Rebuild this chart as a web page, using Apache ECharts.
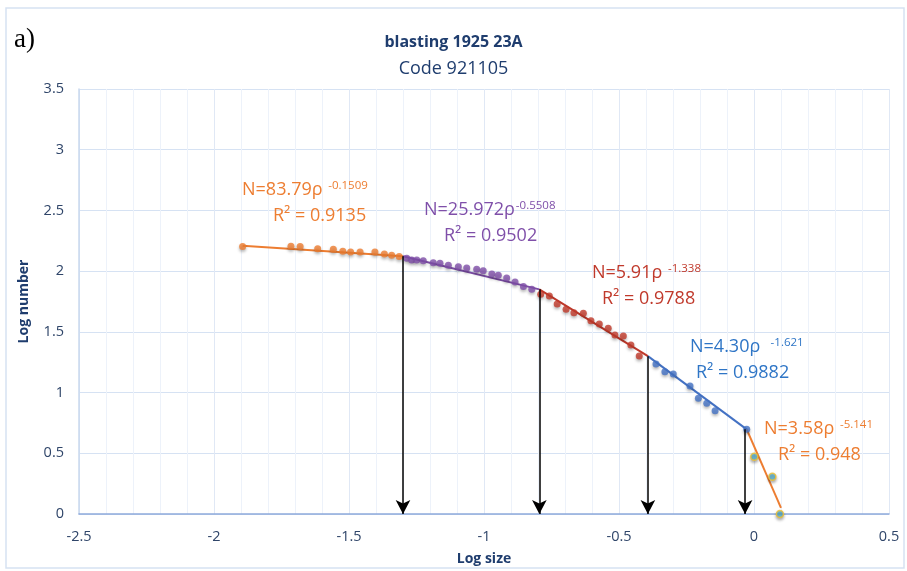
<!DOCTYPE html>
<html>
<head>
<meta charset="utf-8">
<script src="https://cdn.jsdelivr.net/npm/echarts@6/dist/echarts.min.js"></script>
<style>
  html, body { margin: 0; padding: 0; background: #fff; }
  #main { width: 907px; height: 571px; }
</style>
</head>
<body>
<div id="main"></div>
<script>
// measured points, log size / log number
var seg1X = [-1.894, -1.715, -1.681, -1.616, -1.558, -1.523, -1.494, -1.459, -1.404, -1.369, -1.342, -1.314];
var seg1Y = [2.202, 2.205, 2.202, 2.185, 2.180, 2.164, 2.158, 2.158, 2.158, 2.142, 2.131, 2.120];
var seg2X = [-1.286, -1.268, -1.249, -1.225, -1.188, -1.163, -1.132, -1.095, -1.064, -1.027, -1.003, -0.971, -0.947, -0.916, -0.885, -0.854, -0.823];
var seg2Y = [2.106, 2.092, 2.092, 2.086, 2.070, 2.065, 2.048, 2.037, 2.026, 2.015, 2.004, 1.977, 1.966, 1.944, 1.911, 1.873, 1.851];
var seg3X = [-0.790, -0.758, -0.729, -0.696, -0.667, -0.632, -0.604, -0.573, -0.540, -0.515, -0.484, -0.456, -0.425];
var seg3Y = [1.810, 1.796, 1.730, 1.686, 1.658, 1.653, 1.592, 1.565, 1.530, 1.474, 1.466, 1.392, 1.301];
var seg4X = [-0.363, -0.330, -0.299, -0.237, -0.206, -0.175, -0.144, -0.027];
var seg4Y = [1.236, 1.172, 1.153, 1.054, 0.953, 0.912, 0.851, 0.697];
var seg5X = [0.001, 0.068, 0.096];
var seg5Y = [0.472, 0.307, 0.0];

// trend lines (end points)
var fit1X = [-1.894, -1.300], fit1Y = [2.210, 2.122];
var fit2X = [-1.300, -0.795], fit2Y = [2.122, 1.850];
var fit3X = [-0.795, -0.393], fit3Y = [1.850, 1.300];
var fit4X = [-0.393, -0.027], fit4Y = [1.300, 0.697];
var fit5X = [-0.027, 0.100], fit5Y = [0.697, 0.050];

// arrows
var arrowX = [-1.300, -0.795, -0.393, -0.033];
var arrowTop = [2.122, 1.850, 1.300, 0.697];

var xTicks = [-2.5, 0.5];
var yTicks = [0, 3.5];

function pairs(xs, ys) {
  return xs.map(function (x, i) { return [x, ys[i]]; });
}

var orange = '#ED7D31', purple = '#7F4FA9', red = '#C0392B', blue = '#4472C4';
var font = 'Open Sans';
var eqSize = 18;

var ctx = document.createElement('canvas').getContext('2d');
function textWidth(t, size) {
  ctx.font = size + 'px "' + font + '"';
  return ctx.measureText(t).width;
}

function dots(data, color, border) {
  return {
    type: 'scatter', data: data, symbolSize: 7, z: 4,
    itemStyle: {
      color: color, borderColor: border || color, borderWidth: border ? 1.5 : 0,
      shadowBlur: 3, shadowColor: 'rgba(0,0,0,0.35)', shadowOffsetY: 2
    }
  };
}
function fit(data, color) {
  return {
    type: 'line', data: data, symbol: 'none', z: 3,
    lineStyle: { color: color, width: 2 }
  };
}
// equation label: main text, raised exponent, R² line under it
function eq(left, top, color, main, sup, r2, off) {
  return [{
    type: 'text', left: left, top: top, z: 100,
    style: { text: main, fontFamily: font, fontSize: eqSize, fill: color }
  }, {
    type: 'text', left: left + textWidth(main, eqSize) + 1, top: top - 1, z: 100,
    style: { text: sup, fontFamily: font, fontSize: 11.5, fill: color }
  }, {
    type: 'text', left: left + off, top: top + 26, z: 100,
    style: { text: r2, fontFamily: font, fontSize: eqSize, fill: color }
  }];
}

var arrowLines = arrowX.map(function (x, i) {
  return [{ coord: [x, arrowTop[i]] }, { coord: [x, 0] }];
});

var chart = echarts.init(document.getElementById('main'));
chart.setOption({
  backgroundColor: '#fff',
  animation: false,
  title: {
    text: 'blasting 1925 23A',
    subtext: 'Code 921105',
    left: 'center', top: 29, itemGap: 10,
    textStyle: { fontFamily: font, fontSize: 16, fontWeight: 'bold', color: '#1F3D6E' },
    subtextStyle: { fontFamily: font, fontSize: 18, color: '#1F3D6E' }
  },
  grid: { left: 79, right: 18, top: 89, bottom: 57 },
  xAxis: {
    type: 'value', min: xTicks[0], max: xTicks[1], interval: 0.5,
    name: 'Log size', nameLocation: 'middle', nameGap: 38,
    nameTextStyle: { fontFamily: font, fontSize: 14, fontWeight: 'bold', color: '#1F3D6E' },
    axisLine: { lineStyle: { color: '#8FAADC', width: 1.5 } },
    axisTick: { show: false },
    axisLabel: { fontFamily: font, fontSize: 14.5, color: '#2F4569', margin: 15 },
    splitLine: { show: true, lineStyle: { color: '#E0E8F5', width: 1 } },
    minorSplitLine: { show: true, lineStyle: { color: '#EDF2FA', width: 1 } },
    minorTick: { show: false, splitNumber: 5 }
  },
  yAxis: {
    type: 'value', min: yTicks[0], max: yTicks[1], interval: 0.5,
    name: 'Log number', nameLocation: 'middle', nameGap: 48,
    nameTextStyle: { fontFamily: font, fontSize: 14, fontWeight: 'bold', color: '#1F3D6E' },
    axisLine: { show: true, onZero: false, lineStyle: { color: '#C9D8EE', width: 1.5 } },
    axisTick: { show: false },
    axisLabel: { fontFamily: font, fontSize: 14.5, color: '#2F4569', margin: 15 },
    splitLine: { show: true, lineStyle: { color: '#D6E2F3', width: 1.2 } }
  },
  series: [
    fit(pairs(fit1X, fit1Y), orange),
    fit(pairs(fit2X, fit2Y), purple),
    fit(pairs(fit3X, fit3Y), red),
    fit(pairs(fit4X, fit4Y), blue),
    fit(pairs(fit5X, fit5Y), orange),
    dots(pairs(seg1X, seg1Y), orange),
    dots(pairs(seg2X, seg2Y), purple),
    dots(pairs(seg3X, seg3Y), red),
    dots(pairs(seg4X, seg4Y), blue),
    dots(pairs(seg5X, seg5Y), '#5BB8D6', '#F2C12E'),
    {
      type: 'line', data: [], z: 2,
      markLine: {
        silent: true, symbol: ['none', 'arrow'], symbolSize: [11, 14],
        label: { show: false },
        lineStyle: { color: '#000', width: 1.5, type: 'solid' },
        data: arrowLines
      }
    }
  ],
  graphic: [
    { type: 'rect', shape: { x: 6, y: 8, width: 898, height: 560 }, style: { fill: 'none', stroke: '#D6E2F2', lineWidth: 1.5 }, z: -1 },
    { type: 'text', left: 14, top: 26, style: { text: 'a)', fontFamily: 'Liberation Serif', fontSize: 27, fill: '#000' } }
  ]
    .concat(eq(242, 181, orange, 'N=83.79ρ ', '-0.1509', 'R² = 0.9135', 31))
    .concat(eq(424, 201, purple, 'N=25.972ρ', '-0.5508', 'R² = 0.9502', 20))
    .concat(eq(592, 264, red, 'N=5.91ρ ', '-1.338', 'R² = 0.9788', 10))
    .concat(eq(690, 338, '#2E75C6', 'N=4.30ρ  ', '-1.621', 'R² = 0.9882', 6))
    .concat(eq(764, 420, orange, 'N=3.58ρ ', '-5.141', 'R² = 0.948', 14))
});
</script>
</body>
</html>
